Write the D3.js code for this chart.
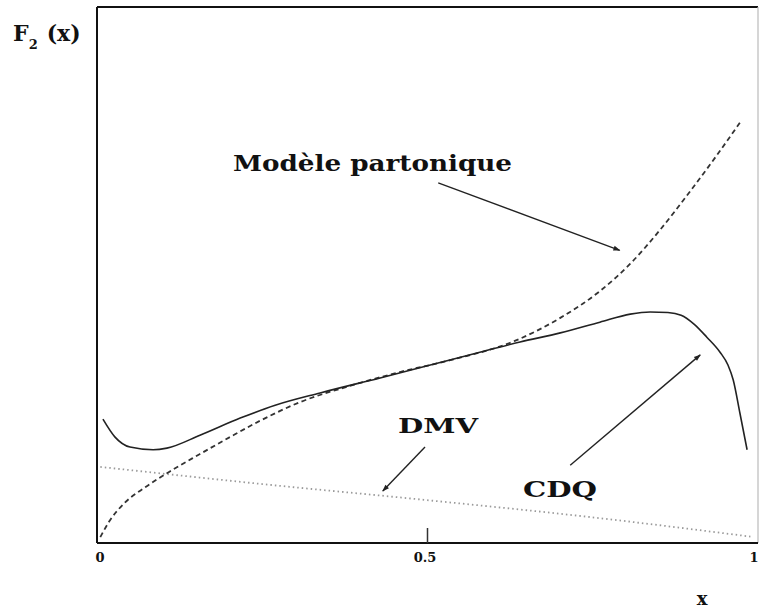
<!DOCTYPE html>
<html>
<head>
<meta charset="utf-8">
<script src="https://cdn.jsdelivr.net/npm/d3@7"></script>
<style>
  html, body { margin: 0; padding: 0; background: #fff; }
  svg { display: block; }
  text { font-family: "DejaVu Serif", "Liberation Serif", serif; font-weight: bold; fill: #111; }
</style>
</head>
<body>
<svg id="chart" width="760" height="608"></svg>
<script>
// ---- data ----
const cdqX = [0.009, 0.027, 0.05, 0.085, 0.106, 0.156, 0.217, 0.27, 0.338, 0.429, 0.505, 0.58, 0.641, 0.702, 0.762, 0.808, 0.838, 0.865, 0.885, 0.905, 0.924, 0.944, 0.956, 0.964, 0.974, 0.985];
const cdqY = [2.31, 1.98, 1.79, 1.74, 1.77, 2.01, 2.33, 2.57, 2.80, 3.08, 3.32, 3.56, 3.75, 3.92, 4.12, 4.27, 4.31, 4.30, 4.25, 4.08, 3.84, 3.56, 3.32, 3.04, 2.43, 1.74];

const partonX = [0.005, 0.020, 0.042, 0.073, 0.111, 0.156, 0.202, 0.247, 0.308, 0.383, 0.459, 0.535, 0.633, 0.702, 0.762, 0.808, 0.853, 0.898, 0.936, 0.974];
const partonY = [0.11, 0.43, 0.75, 1.04, 1.34, 1.66, 1.98, 2.28, 2.63, 2.93, 3.19, 3.41, 3.77, 4.20, 4.70, 5.21, 5.84, 6.55, 7.18, 7.84];

const dmvX = [0.005, 0.25, 0.5, 0.75, 0.99];
const dmvY = [1.42, 1.10, 0.80, 0.48, 0.12];

const xTickValues = [0, 0.5, 1];
const xTickLabels = ["0", "0.5", "1"];

const labelModel = "Modèle partonique";
const labelDMV = "DMV";
const labelCDQ = "CDQ";

// ---- layout ----
const svg = d3.select("#chart");
const pL = 97, pR = 757, pT = 7, pB = 543;
const x = d3.scaleLinear().domain([0, 1]).range([pL, pR]);
const y = d3.scaleLinear().domain([0, 10]).range([pB, pT]);

// frame
svg.append("line").attr("x1", pL).attr("x2", pL).attr("y1", pT).attr("y2", pB)
  .attr("stroke", "#111").attr("stroke-width", 2);
svg.append("line").attr("x1", pL).attr("x2", pR + 1).attr("y1", pT).attr("y2", pT)
  .attr("stroke", "#111").attr("stroke-width", 2);
svg.append("line").attr("x1", pR + 1).attr("x2", pR + 1).attr("y1", pT).attr("y2", pB)
  .attr("stroke", "#bbb").attr("stroke-width", 1.2);

// bottom axis with the single inner tick at 0.5
const xAxis = d3.axisBottom(x).tickValues([0.5]).tickSize(-15).tickFormat("");
const gx = svg.append("g").attr("transform", `translate(0,${pB})`).call(xAxis);
gx.select(".domain").attr("stroke", "#111").attr("stroke-width", 2).attr("d", `M${pL},0H${pR + 1}`);
gx.selectAll(".tick line").attr("stroke", "#333").attr("stroke-width", 1.5);

// tick labels
svg.selectAll(".xlab").data(xTickValues).enter().append("text")
  .attr("class", "xlab")
  .attr("x", (d, i) => i === 0 ? x(d) + 3 : (i === 2 ? x(d) - 3 : x(d) - 2))
  .attr("y", 562)
  .attr("text-anchor", "middle")
  .style("font-size", "13px")
  .text((d, i) => xTickLabels[i]);

// axis titles
const ft = svg.append("text").attr("x", 13).attr("y", 41).style("font-size", "22px");
ft.append("tspan").text("F");
ft.append("tspan").attr("dy", 8).style("font-size", "13px").text("2");
ft.append("tspan").attr("dy", -8).attr("dx", 9).text("(x)");

svg.append("text").attr("x", 702).attr("y", 605).attr("text-anchor", "middle")
  .style("font-size", "18px").text("x");

// curves
const line = d3.line().x(d => x(d[0])).y(d => y(d[1])).curve(d3.curveMonotoneX);

svg.append("path").datum(dmvX.map((v, i) => [v, dmvY[i]]))
  .attr("d", line).attr("fill", "none").attr("stroke", "#9a9a9a")
  .attr("stroke-width", 1.8).attr("stroke-dasharray", "1.5,3");

svg.append("path").datum(partonX.map((v, i) => [v, partonY[i]]))
  .attr("d", line).attr("fill", "none").attr("stroke", "#333")
  .attr("stroke-width", 1.8).attr("stroke-dasharray", "5,3.5");

svg.append("path").datum(cdqX.map((v, i) => [v, cdqY[i]]))
  .attr("d", line).attr("fill", "none").attr("stroke", "#222")
  .attr("stroke-width", 1.6);

// arrow marker
svg.append("defs").append("marker")
  .attr("id", "arrow").attr("viewBox", "0 0 10 10").attr("refX", 9).attr("refY", 5)
  .attr("markerWidth", 9).attr("markerHeight", 7).attr("markerUnits", "userSpaceOnUse")
  .attr("orient", "auto")
  .append("path").attr("d", "M0,1.5L10,5L0,8.5Z").attr("fill", "#222");

function arrow(x1, y1, x2, y2) {
  svg.append("line").attr("x1", x(x1)).attr("y1", y(y1)).attr("x2", x(x2)).attr("y2", y(y2))
    .attr("stroke", "#222").attr("stroke-width", 1.4).attr("marker-end", "url(#arrow)");
}
// arrows (data coordinates)
arrow(0.517, 6.72, 0.792, 5.46);
arrow(0.497, 1.79, 0.433, 0.97);
arrow(0.717, 1.45, 0.914, 3.51);

// labels
svg.append("text").attr("x", 233).attr("y", 171).style("font-size", "22px")
  .attr("textLength", 279).attr("lengthAdjust", "spacingAndGlyphs").text(labelModel);
svg.append("text").attr("x", 398).attr("y", 433).style("font-size", "21px")
  .attr("textLength", 80).attr("lengthAdjust", "spacingAndGlyphs").text(labelDMV);
svg.append("text").attr("x", 523).attr("y", 497).style("font-size", "23px")
  .attr("textLength", 74).attr("lengthAdjust", "spacingAndGlyphs").text(labelCDQ);
</script>
</body>
</html>
